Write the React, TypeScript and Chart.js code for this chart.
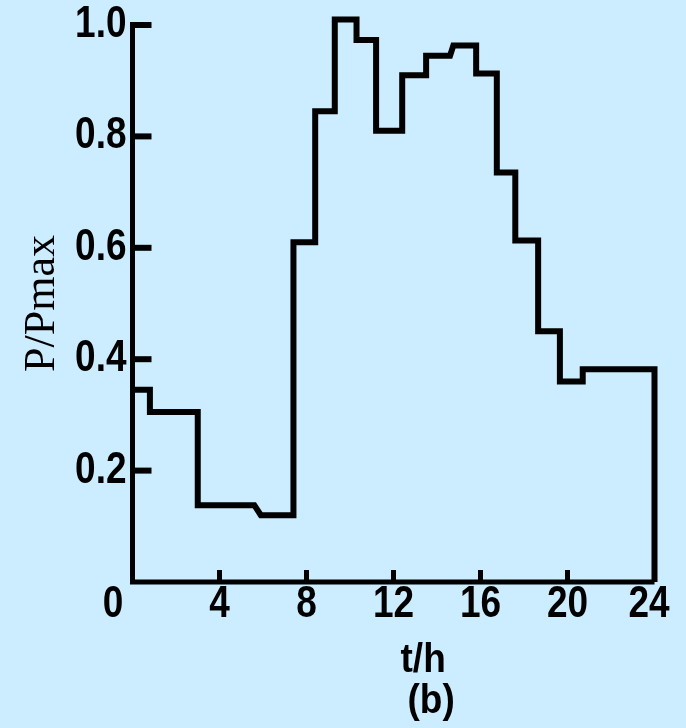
import React, { useEffect, useRef } from "react";
import { Chart, registerables } from "chart.js";

Chart.register(...registerables);

// Step load curve: each step has a start time, end time (h) and level (P/Pmax)
const stepStart = [0, 0.8, 3.0, 5.9, 7.4, 8.4, 9.3, 10.3, 11.2, 12.4, 13.5, 14.75, 15.8, 16.75, 17.6, 18.65, 19.65, 20.7];
const stepEnd = [0.8, 3.0, 5.6, 7.4, 8.4, 9.3, 10.3, 11.2, 12.4, 13.5, 14.6, 15.8, 16.75, 17.6, 18.65, 19.65, 20.7, 24];
const stepLevel = [0.345, 0.305, 0.138, 0.12, 0.61, 0.845, 1.01, 0.973, 0.81, 0.91, 0.945, 0.963, 0.913, 0.735, 0.613, 0.45, 0.36, 0.382];
const endPoint = { t: 24, v: 0 };

const xTickValues = [0, 4, 8, 12, 16, 20, 24];
const xTickLabels = ["0", "4", "8", "12", "16", "20", "24"];
const yTickValues = [0.2, 0.4, 0.6, 0.8, 1.0];
const yTickLabels = ["0.2", "0.4", "0.6", "0.8", "1.0"];
const xTitle = "t/h";
const subCaption = "(b)";
const yTitle = "P/Pmax";

const BG = "rgb(204,236,255)";
const SANS = "'Liberation Sans', Arial, Helvetica, sans-serif";

function stretchedText(ctx: CanvasRenderingContext2D, text: string, x: number, y: number, sy: number) {
  ctx.save();
  ctx.translate(x, y);
  ctx.scale(1, sy);
  ctx.fillText(text, 0, 0);
  ctx.restore();
}

export default function App() {
  const ref = useRef<HTMLCanvasElement | null>(null);

  useEffect(() => {
    if (!ref.current) return;
    const points: { x: number; y: number }[] = [];
    stepLevel.forEach((lv, i) => {
      points.push({ x: stepStart[i], y: lv });
      points.push({ x: stepEnd[i], y: lv });
    });
    points.push({ x: endPoint.t, y: endPoint.v });

    const axesPlugin = {
      id: "axesPlugin",
      afterDraw(chart: any) {
        const ctx = chart.ctx as CanvasRenderingContext2D;
        const xs = chart.scales.x;
        const ys = chart.scales.y;
        const left = xs.getPixelForValue(0);
        const right = xs.getPixelForValue(24);
        const bottom = ys.getPixelForValue(0);
        const top = ys.getPixelForValue(1.0);
        ctx.save();
        ctx.strokeStyle = "#000";
        ctx.fillStyle = "#000";
        ctx.lineCap = "butt";
        ctx.lineJoin = "miter";
        // axes
        ctx.lineWidth = 5;
        ctx.beginPath();
        ctx.moveTo(left, top - 3);
        ctx.lineTo(left, bottom);
        ctx.lineTo(right, bottom);
        ctx.stroke();
        // y inner ticks
        ctx.lineWidth = 6;
        yTickValues.forEach((v) => {
          const y = ys.getPixelForValue(v);
          ctx.beginPath();
          ctx.moveTo(left, y);
          ctx.lineTo(left + 19, y);
          ctx.stroke();
        });
        // x inner ticks
        ctx.lineWidth = 5;
        xTickValues.forEach((v) => {
          if (v === 0 || v === 24) return;
          const x = xs.getPixelForValue(v);
          ctx.beginPath();
          ctx.moveTo(x, bottom);
          ctx.lineTo(x, bottom - 12);
          ctx.stroke();
        });
        // y tick labels
        ctx.font = `bold 37px ${SANS}`;
        ctx.textAlign = "right";
        ctx.textBaseline = "middle";
        yTickValues.forEach((v, i) => {
          stretchedText(ctx, yTickLabels[i], left - 6, ys.getPixelForValue(v), 1.18);
        });
        // x tick labels
        ctx.textAlign = "center";
        xTickValues.forEach((v, i) => {
          let x = xs.getPixelForValue(v);
          if (i === 0) x -= 19.5;
          if (i === xTickValues.length - 1) x -= 5.5;
          stretchedText(ctx, xTickLabels[i], x, bottom + 23, 1.18);
        });
        // x title and caption
        const mid = xs.getPixelForValue(13.5);
        ctx.textBaseline = "alphabetic";
        ctx.font = `bold 37px ${SANS}`;
        stretchedText(ctx, xTitle, mid - 3, bottom + 90, 1.1);
        stretchedText(ctx, subCaption, mid + 5, bottom + 131, 1.08);
        ctx.restore();
      },
    };

    const chart = new Chart(ref.current, {
      type: "line",
      data: {
        datasets: [
          {
            data: points,
            borderColor: "#000",
            borderWidth: 6,
            pointRadius: 0,
            tension: 0,
            fill: false,
            clip: false as any,
            borderJoinStyle: "miter",
            borderCapStyle: "butt",
          },
        ],
      },
      options: {
        responsive: false,
        animation: false,
        devicePixelRatio: 1,
        layout: { padding: { top: 25, right: 31.5, left: 0, bottom: 0 }, autoPadding: false },
        plugins: { legend: { display: false }, tooltip: { enabled: false } },
        scales: {
          x: {
            type: "linear",
            min: 0,
            max: 24,
            ticks: { display: false },
            grid: { display: false, drawTicks: false },
            border: { display: false },
            afterFit: (s: any) => {
              s.height = 146;
            },
          },
          y: {
            type: "linear",
            min: 0,
            max: 1,
            afterBuildTicks: (s: any) => {
              s.ticks = yTickValues.map((v) => ({ value: v }));
            },
            ticks: { display: false },
            grid: { display: false, drawTicks: false },
            border: { display: false },
            title: {
              display: true,
              text: yTitle,
              color: "#000",
              font: { family: "'Liberation Serif', 'Times New Roman', serif", size: 44 },
              padding: { top: 16, bottom: 0 },
            },
            afterFit: (s: any) => {
              s.width = 132.5;
            },
          },
        },
      },
      plugins: [axesPlugin],
    });
    return () => chart.destroy();
  }, []);

  return (
    <div style={{ position: "fixed", left: 0, top: 0, width: 686, height: 728, background: BG }}>
      <canvas ref={ref} width={686} height={728} style={{ display: "block" }} />
    </div>
  );
}
